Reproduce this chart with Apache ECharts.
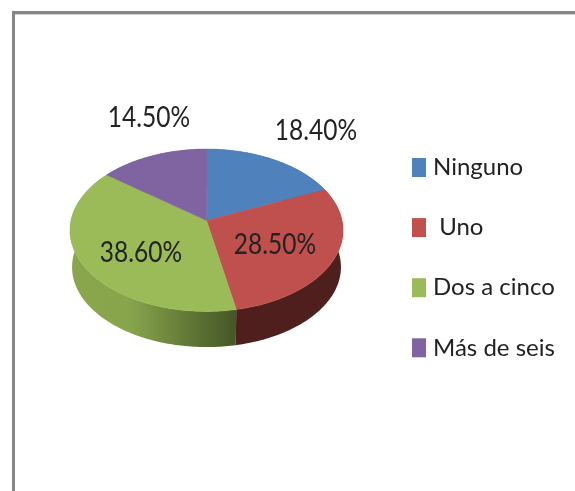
<!DOCTYPE html>
<html><head><meta charset="utf-8">
<style>html,body{margin:0;padding:0;background:#fff}#c{width:575px;height:491px}</style>
<script src="https://cdn.jsdelivr.net/npm/echarts@6/dist/echarts.min.js"></script>
</head><body><div id="c"></div>
<script>
const categories = ['Ninguno', ' Uno', 'Dos a cinco', 'Más de seis'];
const values = [18.4, 28.5, 38.6, 14.5];
const colors = ['#4f81bd', '#c0504d', '#9bbb59', '#8064a2'];

const FONT = 'Lato';
const view = {cx: 206.5, cy: 220.5, A: 135.5, B: 80, p: 0.12, depth: 37, rimScale: 0.985};
const labelPositions = [[316, 131], [275, 245], [141, 253], [149, 118]];
const total = values.reduce((a, b) => a + b, 0);

function project(deg, lower) {
  const t = deg * Math.PI / 180, u = Math.sin(t), v = Math.cos(t), d = 1 + view.p * v;
  const k = lower ? view.rimScale : 1;
  return [view.cx + k * view.A * u / d, view.cy - k * view.B * v / d + (lower ? view.depth : 0)];
}
function arc(a0, a1, lower) {
  const n = Math.max(2, Math.ceil(Math.abs(a1 - a0))), out = [];
  for (let i = 0; i <= n; i++) out.push(project(a0 + (a1 - a0) * i / n, lower));
  return out;
}
function sideFill(i) {
  if (i === 2) return new echarts.graphic.LinearGradient(72, 0, 235, 0, [
    {offset: 0, color: '#89a64c'}, {offset: 0.35, color: '#88a54d'},
    {offset: 0.7, color: '#637a37'}, {offset: 1, color: '#465727'}], true);
  if (i === 1) return '#4e1f1d';
  return '#3a5a80';
}
function makeSeries(name, i) {
  const start = values.slice(0, i).reduce((a, b) => a + b, 0) / total * 360;
  return {
    type: 'custom', name, coordinateSystem: 'none', silent: true,
    itemStyle: {color: colors[i]},
    data: [[values[i]]],
    renderItem: (params, api) => {
      const val = api.value(0), a0 = start, a1 = start + val / total * 360;
      const top = arc(a0, a1, false), bottom = arc(a0, a1, true);
      const children = [
        {type: 'polygon', z2: 1, shape: {points: top.concat(bottom.slice().reverse())},
         style: {fill: sideFill(i), stroke: null}},
        {type: 'polygon', z2: 2, shape: {points: [[view.cx, view.cy]].concat(top)},
         style: {fill: colors[i], stroke: colors[i], lineWidth: 0.5}},
        {type: 'text', z2: 5, x: labelPositions[i][0], y: labelPositions[i][1], scaleY: 1.15,
         style: {text: val.toFixed(2) + '%', fill: '#222', font: '24.5px ' + FONT, align: 'center', verticalAlign: 'middle'}}
      ];
      return {type: 'group', children};
    }
  };
}
const chart = echarts.init(document.getElementById('c'), null, {renderer: 'canvas'});
chart.setOption({
  animation: false,
  backgroundColor: '#fff',
  color: colors,
  legend: {
    orient: 'vertical', left: 412, top: 155.5, padding: 0, icon: 'rect', selectedMode: false,
    itemWidth: 14, itemHeight: 19, itemGap: 36.1,
    data: categories,
    textStyle: {fontFamily: FONT, fontSize: 24, color: '#222', lineHeight: 19, padding: [0, 0, 0, 2]}
  },
  graphic: [
    {type: 'rect', z: 0, shape: {x: 12, y: 11, width: 563, height: 3}, style: {fill: '#868686'}},
    {type: 'rect', z: 0, shape: {x: 15, y: 14, width: 560, height: 1}, style: {fill: '#cfcfcf'}},
    {type: 'rect', z: 0, shape: {x: 12, y: 11, width: 3, height: 480}, style: {fill: '#868686'}}
  ],
  series: categories.map(makeSeries)
});
</script></body></html>
